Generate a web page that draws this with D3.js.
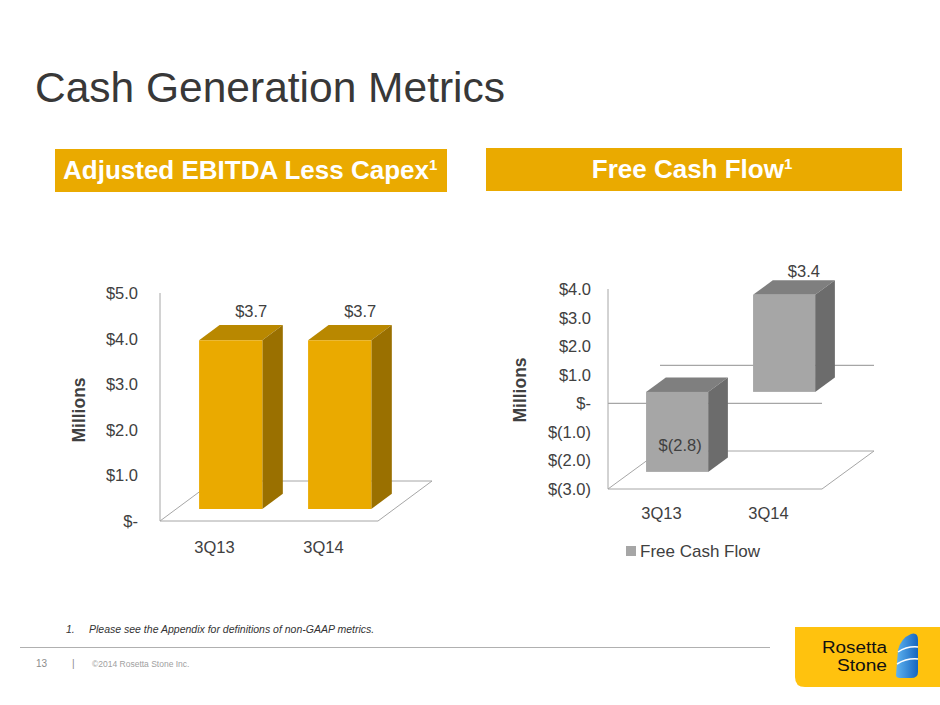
<!DOCTYPE html>
<html>
<head>
<meta charset="utf-8">
<script src="https://cdn.jsdelivr.net/npm/d3@7"></script>
<style>
  body { margin: 0; background: #fff; }
  svg { display: block; font-family: "Liberation Sans", Arial, Helvetica, sans-serif; }
</style>
</head>
<body>
<svg id="slide" width="940" height="705"></svg>
<script>
// data
var quarters = ['3Q13', '3Q14']
var ebitdaLessCapex = [3.7, 3.7]
var freeCashFlow = [-2.8, 3.4]
var ebitdaTicks = [0, 1, 2, 3, 4, 5]
var fcfTicks = [-3, -2, -1, 0, 1, 2, 3, 4]

var GOLD = '#EAAA00',
	TEXT_COLOR = '#404040',
	AXIS_COLOR = '#a6a6a6'

var svg = d3.select('#slide')

var fmt = function(v){
	if (v == 0) return '$-'
	if (v < 0) return '$(' + d3.format('.1f')(-v) + ')'
	return '$' + d3.format('.1f')(v)
}

// title
svg.append('text')
	.attr('x', 35).attr('y', 102)
	.attr('font-size', 42.5)
	.attr('fill', '#383838')
	.text('Cash Generation Metrics')

// header boxes
var headers = [
	{x: 55, y: 149, w: 392, h: 43, text: 'Adjusted EBITDA Less Capex', anchor: 'start', tx: 63},
	{x: 486, y: 148, w: 416, h: 43, text: 'Free Cash Flow', anchor: 'middle', tx: 692}
]
headers.forEach(function(h){
	svg.append('rect').attr('x', h.x).attr('y', h.y).attr('width', h.w).attr('height', h.h).attr('fill', GOLD)
	var t = svg.append('text')
		.attr('x', h.tx).attr('y', h.y + 30)
		.attr('text-anchor', h.anchor)
		.attr('font-size', 26).attr('font-weight', 'bold').attr('fill', '#fff')
	t.append('tspan').text(h.text)
	t.append('tspan').attr('font-size', 15).attr('dy', -9).text('1')
})

// 3d column chart
function chart3d(o){
	var g = svg.append('g')
	var y = d3.scaleLinear().domain(o.domain).range(o.yRange)
	var x = d3.scaleBand().domain(o.cats).range(o.xRange).paddingInner(0.42).paddingOuter(0.21)
	var bw = x.bandwidth()
	var proj = function(px, py, d){ return [px + o.DX * d, py + o.DY * d] }
	var d0 = 0.3, d1 = 0.68
	var yFloor = y(o.domain[0])
	var line = d3.line()

	// floor
	g.append('path')
		.attr('d', line([proj(o.xRange[0], yFloor, 0), proj(o.xRange[1], yFloor, 0),
						proj(o.xRange[1], yFloor, 1), proj(o.xRange[0], yFloor, 1)]) + 'Z')
		.attr('fill', 'none').attr('stroke', AXIS_COLOR).attr('stroke-width', 1)

	// zero lines when domain crosses zero
	if (o.domain[0] < 0) {
		[1, 0].forEach(function(d){
			g.append('path')
				.attr('d', line([proj(o.xRange[0], y(0), d), proj(o.xRange[1], y(0), d)]))
				.attr('stroke', AXIS_COLOR).attr('stroke-width', 1.2)
		})
	}

	// value axis
	g.append('line')
		.attr('x1', o.xRange[0]).attr('x2', o.xRange[0])
		.attr('y1', y(o.domain[1])).attr('y2', yFloor)
		.attr('stroke', AXIS_COLOR).attr('stroke-width', 1)

	g.selectAll('text.tick')
		.data(o.ticks)
		.enter().append('text')
			.attr('class', 'tick')
			.attr('x', o.xRange[0] - o.tickPad)
			.attr('y', function(d){ return y(d) + 6 })
			.attr('text-anchor', 'end')
			.attr('font-size', 16.5).attr('fill', TEXT_COLOR)
			.text(fmt)

	g.append('text')
		.attr('transform', 'translate(' + o.titleX + ',' + o.titleY + ') rotate(-90)')
		.attr('text-anchor', 'middle')
		.attr('font-size', 17.5).attr('font-weight', 'bold').attr('fill', TEXT_COLOR)
		.text('Millions')

	// category labels
	g.selectAll('text.cat')
		.data(o.cats)
		.enter().append('text')
			.attr('class', 'cat')
			.attr('x', function(d){ return x(d) + bw / 2 })
			.attr('y', yFloor + o.catDy)
			.attr('text-anchor', 'middle')
			.attr('font-size', 16.5).attr('fill', TEXT_COLOR)
			.text(function(d){ return d })

	// bars
	var bars = g.selectAll('g.bar')
		.data(o.values.map(function(v, i){ return {cat: o.cats[i], v: v} }))
		.enter().append('g').attr('class', 'bar')

	bars.each(function(d){
		var x0 = x(d.cat), x1 = x0 + bw
		var yT = y(Math.max(0, d.v)), yB = y(Math.min(0, d.v))
		var sel = d3.select(this)
		sel.append('path')
			.attr('d', line([proj(x0, yT, d0), proj(x0, yT, d1), proj(x1, yT, d1), proj(x1, yT, d0)]) + 'Z')
			.attr('fill', o.colors[2])
		sel.append('path')
			.attr('d', line([proj(x1, yT, d0), proj(x1, yT, d1), proj(x1, yB, d1), proj(x1, yB, d0)]) + 'Z')
			.attr('fill', o.colors[1])
		var p = proj(x0, yT, d0)
		sel.append('rect')
			.attr('x', p[0]).attr('y', p[1])
			.attr('width', bw).attr('height', yB - yT)
			.attr('fill', o.colors[0])

		var lx, ly
		if (d.v >= 0) {
			var q = proj(x0 + bw / 2, yT, d1)
			lx = q[0]; ly = q[1] - o.labelOff
		} else {
			var q = proj(x0 + bw / 2, yB, d0)
			lx = q[0] + 3; ly = q[1] - 21
		}
		sel.append('text')
			.attr('x', lx).attr('y', ly)
			.attr('text-anchor', 'middle')
			.attr('font-size', 16.5).attr('fill', TEXT_COLOR)
			.text(fmt(d.v))
	})

	return {x: x, y: y}
}

chart3d({
	cats: quarters, values: ebitdaLessCapex, ticks: ebitdaTicks,
	domain: [0, 5], yRange: [521, 293], xRange: [160, 378],
	DX: 54, DY: -40,
	colors: ['#EAAA00', '#9A7000', '#B98800'],
	titleX: 85, titleY: 410, catDy: 32, labelOff: 8, tickPad: 22
})

chart3d({
	cats: quarters, values: freeCashFlow, ticks: fcfTicks,
	domain: [-3, 4], yRange: [489, 289], xRange: [608, 822],
	DX: 52, DY: -38,
	colors: ['#A6A6A6', '#6C6C6C', '#7F7F7F'],
	titleX: 526, titleY: 390, catDy: 30, labelOff: 3, tickPad: 17
})

// legend
svg.append('rect').attr('x', 626).attr('y', 546).attr('width', 10).attr('height', 10).attr('fill', '#A6A6A6')
svg.append('text')
	.attr('x', 640).attr('y', 557)
	.attr('font-size', 17).attr('fill', TEXT_COLOR)
	.text('Free Cash Flow')

// footnote + footer
svg.append('text')
	.attr('x', 66).attr('y', 633)
	.attr('font-size', 10.5).attr('font-style', 'italic').attr('fill', '#333')
	.text('1.')
svg.append('text')
	.attr('x', 89).attr('y', 633)
	.attr('font-size', 10.5).attr('font-style', 'italic').attr('fill', '#333')
	.text('Please see the Appendix for definitions of  non-GAAP metrics.')
svg.append('line')
	.attr('x1', 20).attr('x2', 770).attr('y1', 647.5).attr('y2', 647.5)
	.attr('stroke', '#b0b0b0').attr('stroke-width', 1)
svg.append('text').attr('x', 36).attr('y', 667).attr('font-size', 10).attr('fill', '#8c8c8c').text('13')
svg.append('text').attr('x', 72).attr('y', 667).attr('font-size', 10).attr('fill', '#8c8c8c').text('|')
svg.append('text').attr('x', 92).attr('y', 667).attr('font-size', 8.5).attr('fill', '#a0a0a0').text('©2014 Rosetta Stone Inc.')

// logo
var logo = svg.append('g')
logo.append('path')
	.attr('d', 'M795,627 L940,627 L940,687 L805,687 Q795,687 795,677 Z')
	.attr('fill', '#FFC20E')
logo.append('text')
	.attr('x', 822).attr('y', 653)
	.attr('font-size', 16).attr('fill', '#111')
	.attr('textLength', 65).attr('lengthAdjust', 'spacingAndGlyphs')
	.text('Rosetta')
logo.append('text')
	.attr('x', 837).attr('y', 671)
	.attr('font-size', 16).attr('fill', '#111')
	.attr('textLength', 50).attr('lengthAdjust', 'spacingAndGlyphs')
	.text('Stone')
var grad = svg.append('defs').append('linearGradient').attr('id', 'stone')
	.attr('x1', 0).attr('y1', 0).attr('x2', 1).attr('y2', 0)
grad.append('stop').attr('offset', 0).attr('stop-color', '#5fb4f0')
grad.append('stop').attr('offset', 1).attr('stop-color', '#1565c0')
logo.append('path')
	.attr('d', 'M896,675 L898,650 Q901,638 911,634 Q918,632 918,640 L918,672 Q918,678 911,678 L900,678 Q896,678 896,675 Z')
	.attr('fill', 'url(#stone)')
logo.append('path').attr('d', 'M898,652 Q907,646 918,647').attr('stroke', '#fff').attr('stroke-width', 1.5).attr('fill', 'none')
logo.append('path').attr('d', 'M897,664 Q907,658 918,659').attr('stroke', '#fff').attr('stroke-width', 1.5).attr('fill', 'none')
</script>
</body>
</html>
